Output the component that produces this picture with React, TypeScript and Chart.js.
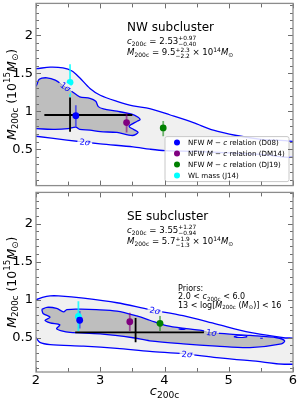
import React, { useEffect, useRef } from 'react';
import { Chart, registerables } from 'chart.js';

Chart.register(...registerables);

const FONT = "'DejaVu Sans', 'Liberation Sans', sans-serif";

// ---------- axes ----------
const C_MIN = 2;
const C_MAX = 6;
const X_TICKS = [2, 3, 4, 5, 6];
const X_MINOR_STEP = 0.5;
const Y_TICKS = [0.5, 1, 1.5, 2];
const Y_MINOR_STEP = 0.1;
const NW_Y_LIMITS = [0.02, 2.42];
const SE_Y_LIMITS = [0.05, 2.41];

// ---------- comparison estimates (c200c, M200c [1e15 Msun]) ----------
const SOURCE_KEYS = ['D08', 'DM14', 'DJ19', 'J14'];
const SOURCE_COLORS = ['#0000ff', '#800080', '#008000', '#00ffff'];
const SOURCE_BAR_COLORS = ['rgba(0,0,255,0.55)', 'rgba(128,0,128,0.6)', 'rgba(0,128,0,0.55)', 'rgba(0,255,255,0.8)'];

const NW_C = [2.62, 3.41, 3.98, 2.53];
const NW_M = [0.94, 0.85, 0.78, 1.38];
const NW_M_LO = [0.80, 0.72, 0.67, 1.19];
const NW_M_HI = [1.08, 0.98, 0.87, 1.62];

const SE_C = [2.68, 3.46, 3.93, 2.66];
const SE_M = [0.73, 0.71, 0.69, 0.78];
const SE_M_LO = [0.62, 0.59, 0.59, 0.59];
const SE_M_HI = [0.85, 0.83, 0.79, 0.98];

// best fit: [value, low, high]
const NW_FIT_C = [2.53, 2.13, 3.50];
const NW_FIT_M = [0.95, 0.73, 1.18];
const SE_FIT_C = [3.55, 2.61, 4.82];
const SE_FIT_M = [0.57, 0.44, 0.76];

// ---------- credible contours ----------
const NW_2SIG_C = [1.9, 2.0, 2.22, 2.42, 2.56, 2.68, 2.84, 3.0, 3.26, 3.51, 3.77, 4.09, 4.45, 4.76, 5.12, 5.5, 6.1, 6.1, 5.5, 5.0, 4.5, 4.01, 3.77, 3.51, 3.0, 2.48, 2.0, 1.9];
const NW_2SIG_M = [1.56, 1.56, 1.58, 1.57, 1.53, 1.44, 1.30, 1.21, 1.13, 1.07, 1.035, 0.95, 0.85, 0.75, 0.68, 0.63, 0.58, 0.40, 0.43, 0.45, 0.47, 0.48, 0.50, 0.53, 0.57, 0.62, 0.67, 0.68];
const NW_1SIG_C = [1.9, 2.0, 2.05, 2.17, 2.30, 2.42, 2.56, 2.68, 2.84, 2.93, 2.97, 3.05, 3.26, 3.49, 3.59, 3.62, 3.58, 3.45, 3.52, 3.59, 3.50, 3.26, 3.0, 2.84, 2.68, 2.62, 2.50, 2.30, 2.0, 1.9];
const NW_1SIG_M = [1.30, 1.33, 1.42, 1.44, 1.41, 1.34, 1.26, 1.19, 1.17, 1.13, 1.06, 1.03, 1.00, 0.96, 0.92, 0.89, 0.87, 0.80, 0.76, 0.72, 0.68, 0.72, 0.73, 0.75, 0.76, 0.79, 0.77, 0.76, 0.77, 0.77];

const SE_2SIG_C = [1.9, 2.0, 2.1, 2.22, 2.35, 2.74, 3.26, 3.77, 4.29, 4.81, 5.33, 5.85, 6.1, 6.1, 5.33, 4.81, 4.29, 3.77, 3.26, 2.74, 2.22, 2.06, 2.0, 1.9];
const SE_2SIG_M = [0.98, 1.0, 1.03, 1.05, 1.05, 1.02, 0.96, 0.87, 0.79, 0.68, 0.57, 0.50, 0.47, 0.17, 0.20, 0.24, 0.29, 0.32, 0.36, 0.39, 0.41, 0.44, 0.50, 0.56];
const SE_1SIG_C = [2.09, 2.17, 2.32, 2.43, 2.48, 2.70, 2.94, 3.26, 3.57, 3.77, 4.03, 4.34, 4.55, 4.66, 4.81, 5.33, 5.75, 5.87, 5.82, 5.33, 4.81, 4.29, 3.77, 3.51, 3.0, 2.53, 2.40, 2.32, 2.37, 2.22, 2.14, 2.22, 2.11];
const SE_1SIG_M = [0.873, 0.90, 0.886, 0.84, 0.87, 0.875, 0.87, 0.85, 0.786, 0.73, 0.66, 0.62, 0.60, 0.58, 0.56, 0.53, 0.50, 0.46, 0.42, 0.37, 0.39, 0.42, 0.46, 0.50, 0.55, 0.57, 0.59, 0.62, 0.67, 0.695, 0.73, 0.77, 0.82];
const SE_ISLAND_A_C = [5.08, 5.13, 5.2, 5.27, 5.28, 5.2, 5.12];
const SE_ISLAND_A_M = [0.515, 0.527, 0.53, 0.522, 0.509, 0.503, 0.505];
const SE_ISLAND_B_C = [4.22, 4.27, 4.32, 4.27];
const SE_ISLAND_B_M = [0.614, 0.62, 0.613, 0.608];
const SE_ISLAND_C_C = [5.49, 5.53];
const SE_ISLAND_C_M = [0.494, 0.494];

// ---------- styles ----------
const FILL_1S = '#bebebe';
const FILL_2S = '#f0f0f0';
const CONTOUR = '#0000ff';
const FRAME = '#8c8c8c';
const TICK = '#6e6e6e';

type Seg = { t?: string; it?: boolean; pos?: 'sub' | 'sup'; ss?: [string, string] };

function rich(ctx: CanvasRenderingContext2D, segs: Seg[], x: number, y: number, size: number, draw = true): number {
  let cx = x;
  for (const s of segs) {
    if (s.ss) {
      const sm = size * 0.68;
      ctx.font = `${sm}px ${FONT}`;
      const w = Math.max(ctx.measureText(s.ss[0]).width, ctx.measureText(s.ss[1]).width);
      if (draw) {
        ctx.fillText(s.ss[0], cx, y - size * 0.42);
        ctx.fillText(s.ss[1], cx, y + size * 0.3);
      }
      cx += w;
      continue;
    }
    const sz = s.pos ? size * 0.7 : size;
    const dy = s.pos === 'sub' ? size * 0.22 : s.pos === 'sup' ? -size * 0.42 : 0;
    ctx.font = `${s.it ? 'italic ' : ''}${sz}px ${FONT}`;
    if (draw) ctx.fillText(s.t as string, cx, y + dy);
    cx += ctx.measureText(s.t as string).width;
  }
  return cx - x;
}

const Y_TITLE: Seg[] = [{ t: 'M', it: true }, { t: '200c', pos: 'sub' }, { t: ' (10' }, { t: '15', pos: 'sup' }, { t: 'M', it: true }, { t: '⊙', pos: 'sub' }, { t: ')' }];
const X_TITLE: Seg[] = [{ t: 'c', it: true }, { t: '200c', pos: 'sub' }];

const LEGEND_TEXT: Seg[][] = [
  [{ t: 'NFW ' }, { t: 'M', it: true }, { t: ' − ' }, { t: 'c', it: true }, { t: ' relation (D08)' }],
  [{ t: 'NFW ' }, { t: 'M', it: true }, { t: ' − ' }, { t: 'c', it: true }, { t: ' relation (DM14)' }],
  [{ t: 'NFW ' }, { t: 'M', it: true }, { t: ' − ' }, { t: 'c', it: true }, { t: ' relation (DJ19)' }],
  [{ t: 'WL mass (J14)' }],
];

const NW_TEXT: Seg[][] = [
  [{ t: 'NW subcluster' }],
  [{ t: 'c', it: true }, { t: '200c', pos: 'sub' }, { t: ' = 2.53' }, { ss: ['+0.97', '−0.40'] }],
  [{ t: 'M', it: true }, { t: '200c', pos: 'sub' }, { t: ' = 9.5' }, { ss: ['+2.3', '−2.2'] }, { t: ' × 10' }, { t: '14', pos: 'sup' }, { t: 'M', it: true }, { t: '⊙', pos: 'sub' }],
];
const SE_TEXT: Seg[][] = [
  [{ t: 'SE subcluster' }],
  [{ t: 'c', it: true }, { t: '200c', pos: 'sub' }, { t: ' = 3.55' }, { ss: ['+1.27', '−0.94'] }],
  [{ t: 'M', it: true }, { t: '200c', pos: 'sub' }, { t: ' = 5.7' }, { ss: ['+1.9', '−1.3'] }, { t: ' × 10' }, { t: '14', pos: 'sup' }, { t: 'M', it: true }, { t: '⊙', pos: 'sub' }],
];
const PRIOR_TEXT: Seg[][] = [
  [{ t: 'Priors:' }],
  [{ t: '2.0 < ' }, { t: 'c', it: true }, { t: '200c', pos: 'sub' }, { t: ' < 6.0' }],
  [{ t: '13 < log[' }, { t: 'M', it: true }, { t: '200c', pos: 'sub' }, { t: ' (' }, { t: 'M', it: true }, { t: '⊙', pos: 'sub' }, { t: ')] < 16' }],
];

type SigmaLabel = { n: string; c: number; m: number; ang: number; up: string; down: string };
const NW_SIGMA_LABELS: SigmaLabel[] = [
  { n: '1', c: 2.46, m: 1.32, ang: 35, up: FILL_2S, down: FILL_1S },
  { n: '2', c: 2.76, m: 0.593, ang: 6, up: FILL_2S, down: '#ffffff' },
];
const SE_SIGMA_LABELS: SigmaLabel[] = [
  { n: '2', c: 3.85, m: 0.857, ang: 11, up: '#ffffff', down: FILL_2S },
  { n: '1', c: 4.73, m: 0.57, ang: 8, up: FILL_2S, down: FILL_1S },
  { n: '2', c: 4.35, m: 0.285, ang: 5, up: FILL_2S, down: '#ffffff' },
];

function pts(cs: number[], ms: number[], close = true) {
  const out = cs.map((c, i) => ({ x: c, y: ms[i] }));
  if (close) out.push({ x: cs[0], y: ms[0] });
  return out;
}

type PanelSpec = {
  key: 'NW' | 'SE';
  yLim: number[];
  c: number[]; m: number[]; mLo: number[]; mHi: number[];
  fitC: number[]; fitM: number[];
  sig2: [number[], number[]]; sig1: [number[], number[]];
  islands: [number[], number[], boolean][];
  showX: boolean;
  text: Seg[][];
  labels: SigmaLabel[];
};

const PANELS: PanelSpec[] = [
  {
    key: 'NW', yLim: NW_Y_LIMITS, c: NW_C, m: NW_M, mLo: NW_M_LO, mHi: NW_M_HI,
    fitC: NW_FIT_C, fitM: NW_FIT_M, sig2: [NW_2SIG_C, NW_2SIG_M], sig1: [NW_1SIG_C, NW_1SIG_M],
    islands: [], showX: false, text: NW_TEXT, labels: NW_SIGMA_LABELS,
  },
  {
    key: 'SE', yLim: SE_Y_LIMITS, c: SE_C, m: SE_M, mLo: SE_M_LO, mHi: SE_M_HI,
    fitC: SE_FIT_C, fitM: SE_FIT_M, sig2: [SE_2SIG_C, SE_2SIG_M], sig1: [SE_1SIG_C, SE_1SIG_M],
    islands: [[SE_ISLAND_A_C, SE_ISLAND_A_M, true], [SE_ISLAND_B_C, SE_ISLAND_B_M, true], [SE_ISLAND_C_C, SE_ISLAND_C_M, false]],
    showX: true, text: SE_TEXT, labels: SE_SIGMA_LABELS,
  },
];

function makeDecor(p: PanelSpec) {
  return {
    id: 'decor' + p.key,
    afterDatasetsDraw(chart: any) {
      const ctx: CanvasRenderingContext2D = chart.ctx;
      const xs = chart.scales.x;
      const ys = chart.scales.y;
      const { left, top, right, bottom } = chart.chartArea;
      ctx.save();
      ctx.textAlign = 'left';
      ctx.textBaseline = 'alphabetic';
      // contour labels
      for (const L of p.labels) {
        const px = xs.getPixelForValue(L.c);
        const py = ys.getPixelForValue(L.m);
        const segs: Seg[] = [{ t: L.n }, { t: 'σ', it: true }];
        const size = 8.5;
        ctx.save();
        ctx.translate(px, py);
        ctx.rotate((L.ang * Math.PI) / 180);
        const w = rich(ctx, segs, 0, 0, size, false);
        const h = 8;
        ctx.fillStyle = L.up;
        ctx.fillRect(-w / 2 - 2, -h / 2, w + 4, h / 2);
        ctx.fillStyle = L.down;
        ctx.fillRect(-w / 2 - 2, 0, w + 4, h / 2);
        ctx.fillStyle = CONTOUR;
        rich(ctx, segs, -w / 2, 3, size);
        ctx.restore();
      }
      // annotation text
      ctx.fillStyle = '#000';
      rich(ctx, p.text[0], left + 91, top + 28, 12);
      rich(ctx, p.text[1], left + 91, top + 40.5, 8.6);
      rich(ctx, p.text[2], left + 91, top + 52, 8.6);

      if (p.key === 'NW') {
        // legend
        const bw = 124, bh = 45;
        const bx = right - 4 - bw, by = bottom - 4 - bh;
        ctx.beginPath();
        ctx.roundRect(bx, by, bw, bh, 2);
        ctx.fillStyle = 'rgba(255,255,255,0.85)';
        ctx.fill();
        ctx.strokeStyle = '#c8c8c8';
        ctx.lineWidth = 1;
        ctx.stroke();
        for (let i = 0; i < SOURCE_KEYS.length; i++) {
          const cy = by + 5.8 + i * 11;
          ctx.beginPath();
          ctx.arc(bx + 12, cy, 3, 0, Math.PI * 2);
          ctx.fillStyle = SOURCE_COLORS[i];
          ctx.fill();
          ctx.fillStyle = '#000';
          rich(ctx, LEGEND_TEXT[i], bx + 23, cy + 2.7, 7.1);
        }
      } else {
        ctx.fillStyle = '#000';
        rich(ctx, PRIOR_TEXT[0], left + 142, top + 98.5, 8);
        rich(ctx, PRIOR_TEXT[1], left + 142, top + 106.8, 8);
        rich(ctx, PRIOR_TEXT[2], left + 142, top + 115.2, 8);
      }
      ctx.restore();
    },
    afterDraw(chart: any) {
      const ctx: CanvasRenderingContext2D = chart.ctx;
      const xs = chart.scales.x;
      const ys = chart.scales.y;
      const { left, top, right, bottom } = chart.chartArea;
      ctx.save();
      // ticks
      ctx.strokeStyle = TICK;
      ctx.lineWidth = 1;
      ctx.beginPath();
      const k0 = Math.ceil(ys.min / Y_MINOR_STEP - 1e-6);
      const k1 = Math.floor(ys.max / Y_MINOR_STEP + 1e-6);
      for (let k = k0; k <= k1; k++) {
        const v = k * Y_MINOR_STEP;
        const py = Math.round(ys.getPixelForValue(v)) + 0.5;
        const major = Y_TICKS.some((t) => Math.abs(t - v) < 1e-6);
        const len = major ? 5 : 3;
        ctx.moveTo(left, py); ctx.lineTo(left + len, py);
        ctx.moveTo(right, py); ctx.lineTo(right - len, py);
      }
      for (let v = C_MIN; v <= C_MAX + 1e-6; v += X_MINOR_STEP) {
        const px = Math.round(xs.getPixelForValue(v)) + 0.5;
        const major = X_TICKS.some((t) => Math.abs(t - v) < 1e-6);
        const len = major ? 5 : 4;
        ctx.moveTo(px, top); ctx.lineTo(px, top + len);
        ctx.moveTo(px, bottom); ctx.lineTo(px, bottom - len);
      }
      ctx.stroke();
      // frame
      ctx.strokeStyle = FRAME;
      ctx.lineWidth = 1.3;
      ctx.strokeRect(left, top, right - left, bottom - top);
      // y title
      ctx.fillStyle = '#000';
      ctx.textAlign = 'left';
      ctx.textBaseline = 'alphabetic';
      const size = 12.5;
      const w = rich(ctx, Y_TITLE, 0, 0, size, false);
      ctx.save();
      ctx.translate(15.5, (top + bottom) / 2);
      ctx.rotate(-Math.PI / 2);
      rich(ctx, Y_TITLE, -w / 2, 0, size);
      ctx.restore();
      if (p.showX) {
        const wx = rich(ctx, X_TITLE, 0, 0, 13, false);
        rich(ctx, X_TITLE, (left + right) / 2 - wx / 2, bottom + 23, 13);
      }
      ctx.restore();
    },
  };
}

function buildConfig(p: PanelSpec): any {
  const datasets: any[] = [];
  const line = (data: any[], color: string, width: number, order: number, extra: any = {}) => ({
    type: 'scatter', data, showLine: true, borderColor: color, borderWidth: width,
    pointRadius: 0, pointHoverRadius: 0, order, ...extra,
  });
  datasets.push(line(pts(p.sig2[0], p.sig2[1]), CONTOUR, 1.3, 30, { fill: 'shape', backgroundColor: FILL_2S, tension: 0.3, clip: 0, label: '2σ' }));
  datasets.push(line(pts(p.sig1[0], p.sig1[1]), CONTOUR, 1.3, 29, { fill: 'shape', backgroundColor: FILL_1S, tension: 0.3, clip: 0, label: '1σ' }));
  p.islands.forEach(([cs, ms, closed], i) => {
    datasets.push(line(pts(cs, ms, closed), CONTOUR, 1.1, 28 - i, closed ? { fill: 'shape', backgroundColor: FILL_2S, tension: 0.4, clip: 0 } : { clip: 0 }));
  });
  // best-fit cross
  datasets.push(line([{ x: p.fitC[1], y: p.fitM[0] }, { x: p.fitC[2], y: p.fitM[0] }], '#000', 1.8, 20));
  datasets.push(line([{ x: p.fitC[0], y: p.fitM[1] }, { x: p.fitC[0], y: p.fitM[2] }], '#000', 1.8, 19));
  // error bars
  SOURCE_KEYS.forEach((k, i) => {
    datasets.push(line([{ x: p.c[i], y: p.mLo[i] }, { x: p.c[i], y: p.mHi[i] }], SOURCE_BAR_COLORS[i], 1.8, 10 + (SOURCE_KEYS.length - i), { label: k + ' err' }));
  });
  // points
  SOURCE_KEYS.forEach((k, i) => {
    datasets.push({
      type: 'scatter', label: k, data: [{ x: p.c[i], y: p.m[i] }],
      pointRadius: 3.4, pointHoverRadius: 3.4, pointBackgroundColor: SOURCE_COLORS[i],
      pointBorderWidth: 0, borderWidth: 0, order: 1 + i,
    });
  });

  const tickFont = { family: FONT, size: 13 };
  return {
    type: 'scatter',
    data: { datasets },
    options: {
      responsive: false,
      maintainAspectRatio: false,
      animation: false,
      events: [],
      layout: { padding: p.showX ? { left: 0, right: 7, top: 1, bottom: 0 } : { left: 0, right: 7, top: 2, bottom: 2 } },
      plugins: { legend: { display: false }, tooltip: { enabled: false } },
      scales: {
        x: {
          type: 'linear', position: 'bottom', min: C_MIN, max: C_MAX, display: p.showX,
          grid: { display: false, drawTicks: false }, border: { display: false },
          ticks: { font: tickFont, color: '#000', padding: 1, autoSkip: false, maxRotation: 0, callback: (v: number) => String(v) },
          afterBuildTicks: (s: any) => { s.ticks = X_TICKS.map((value) => ({ value })); },
          afterFit: (s: any) => { s.height = p.showX ? 29 : 0; s.paddingLeft = 0; s.paddingRight = 0; },
        },
        y: {
          type: 'linear', position: 'left', min: p.yLim[0], max: p.yLim[1],
          grid: { display: false, drawTicks: false }, border: { display: false },
          ticks: { font: tickFont, color: '#000', padding: 3, autoSkip: false, callback: (v: number) => String(v) },
          afterBuildTicks: (s: any) => { s.ticks = Y_TICKS.map((value) => ({ value })); },
          afterFit: (s: any) => { s.width = 36; s.paddingTop = 0; s.paddingBottom = 0; },
        },
      },
    },
    plugins: [makeDecor(p)],
  };
}

function Panel({ spec, top, height }: { spec: PanelSpec; top: number; height: number }) {
  const ref = useRef<HTMLCanvasElement>(null);
  useEffect(() => {
    const chart = new Chart(ref.current as HTMLCanvasElement, buildConfig(spec));
    return () => chart.destroy();
  }, [spec]);
  return (
    <canvas
      ref={ref}
      width={300}
      height={height}
      style={{ position: 'absolute', left: 0, top, width: 300, height, display: 'block' }}
    />
  );
}

export default function App() {
  return (
    <div style={{ position: 'absolute', left: 0, top: 0, width: 300, height: 401, background: '#fff', overflow: 'hidden' }}>
      <Panel spec={PANELS[0]} top={0} height={189} />
      <Panel spec={PANELS[1]} top={189} height={212} />
    </div>
  );
}
